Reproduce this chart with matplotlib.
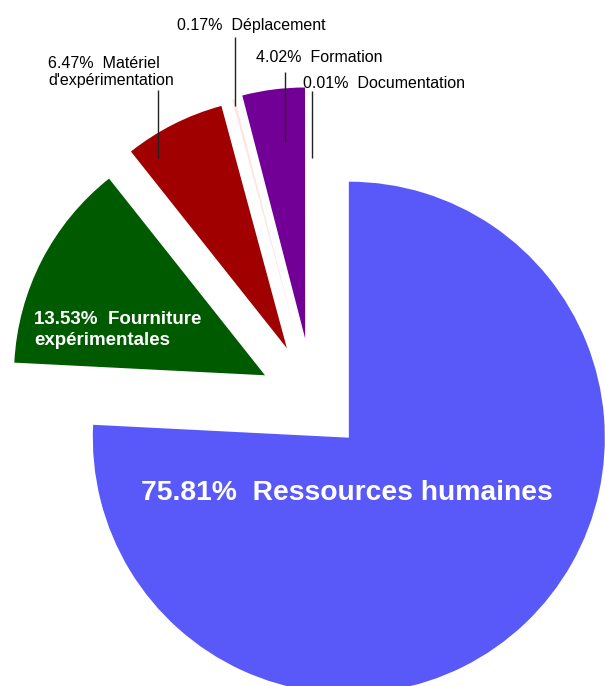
import matplotlib
matplotlib.use("Agg")
import matplotlib.pyplot as plt

plt.rcParams["font.family"] = ["Liberation Sans", "DejaVu Sans"]

# Budget breakdown
categories = [
    "Ressources humaines",
    "Fourniture\nexpérimentales",
    "Matériel\nd'expérimentation",
    "Déplacement",
    "Formation",
    "Documentation",
]
shares = [75.81, 13.53, 6.47, 0.17, 4.02, 0.01]
colors = ["#5959F9", "#005A00", "#A00000", "#FFE4E4", "#730096", "#FFFFFF"]

W, H = 605, 686
fig = plt.figure(figsize=(W / 100, H / 100), dpi=100)
ax = fig.add_axes([0, 0, 1, 1])

# pie laid out in pixel units (y measured upward)
center = (313, H - 400)
explode = [52, 54, 58, 60, 62, 62]
wedges, _ = ax.pie(
    shares,
    explode=explode,
    colors=colors,
    startangle=90,
    counterclock=False,
    radius=251,
    center=center,
    wedgeprops=dict(linewidth=0),
)
wedges[0].set_radius(256)

ax.set_xlim(0, W)
ax.set_ylim(0, H)
ax.set_aspect("auto")
ax.axis("off")

texts = [f"{v:.2f}%  {c}" for v, c in zip(shares, categories)]

# (x, y from top, ha, va, size, weight, color)
placement = [
    (347, 493, "center", "center", 20.3, "bold", "white"),
    (34, 330, "left", "center", 13.5, "bold", "white"),
    (48, 72, "left", "center", 11.5, "normal", "black"),
    (177, 30, "left", "baseline", 11.5, "normal", "black"),
    (256, 62, "left", "baseline", 11.5, "normal", "black"),
    (303, 88, "left", "baseline", 11.5, "normal", "black"),
]
for t, (x, y, ha, va, size, weight, col) in zip(texts, placement):
    ax.text(x, H - y, t, ha=ha, va=va, fontsize=size, fontweight=weight,
            color=col, linespacing=1.25)

# leader lines for the outside labels: (x, top, bottom) from top
leaders = [(158, 90, 158), (235, 37, 106), (285, 72, 142), (312, 91, 158)]
for x, y0, y1 in leaders:
    ax.plot([x, x], [H - y0, H - y1], color="#222222", lw=1.0,
            solid_capstyle="butt")

fig.savefig("out.png", dpi=100)
